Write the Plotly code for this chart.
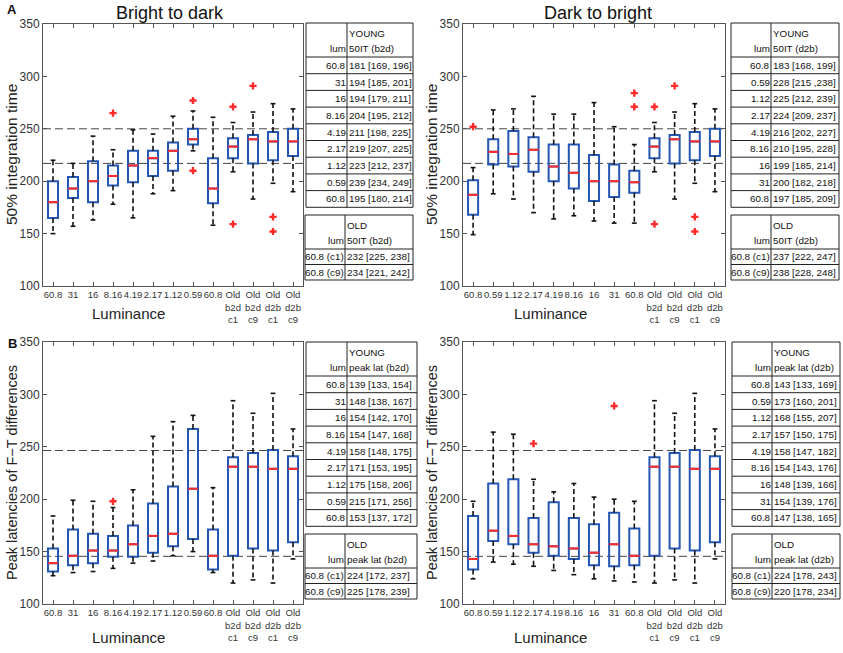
import plotly.graph_objects as go

W, H = 843, 653

# ---- tick labels ----
old_ticks = ["Old<br>b2d<br>c1", "Old<br>b2d<br>c9", "Old<br>d2b<br>c1", "Old<br>d2b<br>c9"]
lum_b2d = ["60.8", "31", "16", "8.16", "4.19", "2.17", "1.12", "0.59", "60.8"]
lum_d2b = ["60.8", "0.59", "1.12", "2.17", "4.19", "8.16", "16", "31", "60.8"]
ticks_b2d = lum_b2d + old_ticks
ticks_d2b = lum_d2b + old_ticks

# ---- A: 50% integration time, bright to dark ----
it_b2d_lo = [150, 157, 163, 178, 165, 188, 191, 229, 158, 209, 183, 198, 190]
it_b2d_q1 = [165, 184, 180, 196, 199, 205, 210, 235, 179, 222, 217, 220, 224]
it_b2d_med = [180, 193, 200, 205, 215, 222, 229, 240, 193, 233, 240, 238, 238]
it_b2d_q3 = [200, 204, 219, 215, 229, 229, 237, 250, 222, 241, 244, 247, 250]
it_b2d_hi = [220, 217, 243, 230, 249, 245, 262, 267, 261, 256, 266, 274, 269]
it_b2d_out = [[], [], [], [265], [], [], [], [277, 210], [], [271, 159], [291], [166, 152], []]

# ---- A: 50% integration time, dark to bright ----
it_d2b_lo = [149, 188, 183, 170, 164, 167, 162, 160, 160, 209, 183, 198, 190]
it_d2b_q1 = [168, 216, 214, 209, 200, 193, 181, 185, 189, 222, 217, 220, 224]
it_d2b_med = [187, 228, 226, 230, 214, 208, 200, 200, 199, 233, 240, 238, 238]
it_d2b_q3 = [201, 240, 248, 242, 235, 235, 225, 216, 210, 241, 244, 247, 250]
it_d2b_hi = [213, 268, 269, 281, 264, 264, 275, 252, 235, 256, 266, 274, 269]
it_d2b_out = [[252], [], [], [], [], [], [], [], [271, 284], [271, 159], [291], [166, 152], []]

# ---- B: peak latencies, bright to dark ----
pl_b2d_lo = [127, 130, 131, 134, 139, 141, 146, 150, 130, 120, 123, 120, 143]
pl_b2d_q1 = [131, 137, 139, 145, 145, 149, 155, 162, 133, 146, 153, 151, 159]
pl_b2d_med = [139, 146, 151, 151, 157, 165, 167, 210, 146, 231, 231, 229, 229]
pl_b2d_q3 = [153, 171, 167, 165, 175, 196, 212, 267, 171, 240, 244, 247, 241]
pl_b2d_hi = [184, 199, 198, 192, 209, 260, 274, 280, 211, 294, 282, 301, 267]
pl_b2d_out = [[], [], [], [198], [], [], [], [], [], [], [], [], []]

# ---- B: peak latencies, dark to bright ----
pl_d2b_lo = [124, 140, 138, 136, 132, 128, 124, 122, 121, 120, 123, 120, 143]
pl_d2b_q1 = [133, 160, 157, 149, 146, 143, 137, 136, 137, 146, 153, 151, 159]
pl_d2b_med = [143, 170, 165, 157, 155, 153, 149, 157, 146, 231, 231, 229, 229]
pl_d2b_q3 = [184, 215, 219, 182, 197, 182, 176, 187, 172, 240, 244, 247, 241]
pl_d2b_hi = [198, 264, 262, 219, 207, 215, 202, 200, 198, 294, 282, 301, 267]
pl_d2b_out = [[], [], [], [253], [], [], [], [289], [], [], [], [], []]

# dashed reference levels
ref_it = [250, 217]
ref_pl = [246.5, 145.5]

# ---- tables ----
old_lum = ["60.8 (c1)", "60.8 (c9)"]
tab_it_b2d = ["181 [169, 196]", "194 [185, 201]", "194 [179, 211]", "204 [195, 212]", "211 [198, 225]",
              "219 [207, 225]", "223 [212, 237]", "239 [234, 249]", "195 [180, 214]"]
tab_it_b2d_old = ["232 [225, 238]", "234 [221, 242]"]
tab_it_d2b = ["183 [168, 199]", "228 [215 ,238]", "225 [212, 239]", "224 [209, 237]", "216 [202, 227]",
              "210 [195, 228]", "199 [185, 214]", "200 [182, 218]", "197 [185, 209]"]
tab_it_d2b_old = ["237 [222, 247]", "238 [228, 248]"]
tab_pl_b2d = ["139 [133, 154]", "148 [138, 167]", "154 [142, 170]", "154 [147, 168]", "158 [148, 175]",
              "171 [153, 195]", "175 [158, 206]", "215 [171, 256]", "153 [137, 172]"]
tab_pl_b2d_old = ["224 [172, 237]", "225 [178, 239]"]
tab_pl_d2b = ["143 [133, 169]", "173 [160, 201]", "168 [155, 207]", "157 [150, 175]", "158 [147, 182]",
              "154 [143, 176]", "148 [139, 166]", "154 [139, 176]", "147 [138, 165]"]
tab_pl_d2b_old = ["224 [178, 243]", "220 [178, 234]"]

BLUE = "#2456b4"
RED = "#ff2a2a"
SANS = "Liberation Sans, Arial"


def px(x):
    return x / W


def py(y):
    return 1 - y / H


fig = go.Figure()


def add_panel(n, lo, q1, med, q3, hi, out, refs):
    xa = "x" if n == 1 else "x%d" % n
    ya = "y" if n == 1 else "y%d" % n
    pos = list(range(1, len(med) + 1))
    fig.add_trace(go.Box(x=pos, q1=q1, median=med, q3=q3, lowerfence=q1, upperfence=q3,
                         width=0.5, whiskerwidth=0, boxpoints=False,
                         line=dict(color=BLUE, width=2), fillcolor="rgba(0,0,0,0)",
                         xaxis=xa, yaxis=ya, hoverinfo="skip"))
    wx, wy, cx, cy, mx, my, ox, oy = [], [], [], [], [], [], [], []
    for i, p in enumerate(pos):
        wx += [p, p, None, p, p, None]
        wy += [q3[i], hi[i], None, q1[i], lo[i], None]
        cx += [p - 0.12, p + 0.12, None, p - 0.12, p + 0.12, None]
        cy += [hi[i], hi[i], None, lo[i], lo[i], None]
        mx += [p - 0.25, p + 0.25, None]
        my += [med[i], med[i], None]
        for v in out[i]:
            ox.append(p)
            oy.append(v)
    fig.add_trace(go.Scatter(x=wx, y=wy, mode="lines", line=dict(color="#111", width=1.6, dash="5px,3px"),
                             xaxis=xa, yaxis=ya, hoverinfo="skip"))
    fig.add_trace(go.Scatter(x=cx, y=cy, mode="lines", line=dict(color="#111", width=1.6),
                             xaxis=xa, yaxis=ya, hoverinfo="skip"))
    fig.add_trace(go.Scatter(x=mx, y=my, mode="lines", line=dict(color=RED, width=2),
                             xaxis=xa, yaxis=ya, hoverinfo="skip"))
    fig.add_trace(go.Scatter(x=ox, y=oy, mode="markers", marker=dict(symbol="cross", size=6, color=RED),
                             xaxis=xa, yaxis=ya, hoverinfo="skip"))
    for r in refs:
        fig.add_shape(type="line", xref=xa + " domain", yref=ya, x0=0, x1=1, y0=r, y1=r,
                      line=dict(color="#444", width=1, dash="8px,4px"), layer="below")


def add_table(x0, xd, x1, y0, head, row_h, title, col_head, lums, vals):
    y1 = y0 + head + row_h * len(lums)
    ln = dict(color="#222", width=1)
    fig.add_shape(type="rect", xref="paper", yref="paper", x0=px(x0), x1=px(x1), y0=py(y1), y1=py(y0), line=ln)
    fig.add_shape(type="line", xref="paper", yref="paper", x0=px(xd), x1=px(xd), y0=py(y0), y1=py(y1), line=ln)
    f = dict(family=SANS, size=9.8, color="#111")
    cell = dict(showarrow=False, font=f, xref="paper", yref="paper", yanchor="middle", borderpad=0)
    fig.add_annotation(x=px(xd + 0.5), y=py(y0 + head * 0.3), text=title, xanchor="left", **cell)
    fig.add_annotation(x=px(xd - 0.5), y=py(y0 + head * 0.75), text="lum", xanchor="right", **cell)
    fig.add_annotation(x=px(xd + 0.5), y=py(y0 + head * 0.75), text=col_head, xanchor="left", **cell)
    for i in range(len(lums)):
        yt = y0 + head + i * row_h
        fig.add_shape(type="line", xref="paper", yref="paper", x0=px(x0), x1=px(x1), y0=py(yt), y1=py(yt), line=ln)
        fig.add_annotation(x=px(xd - 0.5), y=py(yt + row_h / 2), text=lums[i], xanchor="right", **cell)
        fig.add_annotation(x=px(xd + 0.5), y=py(yt + row_h / 2), text=vals[i], xanchor="left", **cell)


add_panel(1, it_b2d_lo, it_b2d_q1, it_b2d_med, it_b2d_q3, it_b2d_hi, it_b2d_out, ref_it)
add_panel(2, it_d2b_lo, it_d2b_q1, it_d2b_med, it_d2b_q3, it_d2b_hi, it_d2b_out, ref_it)
add_panel(3, pl_b2d_lo, pl_b2d_q1, pl_b2d_med, pl_b2d_q3, pl_b2d_hi, pl_b2d_out, ref_pl)
add_panel(4, pl_d2b_lo, pl_d2b_q1, pl_d2b_med, pl_d2b_q3, pl_d2b_hi, pl_d2b_out, ref_pl)

# tables (pixel geometry)
add_table(306, 347, 413, 23, 34, 16.7, "YOUNG", "50IT (b2d)", lum_b2d, tab_it_b2d)
add_table(305, 345, 413, 215, 34, 15.5, "OLD", "50IT (b2d)", old_lum, tab_it_b2d_old)
add_table(731, 771, 839, 23, 34, 16.7, "YOUNG", "50IT (d2b)", lum_d2b, tab_it_d2b)
add_table(731, 771, 839, 215, 34, 15.5, "OLD", "50IT (d2b)", old_lum, tab_it_d2b_old)
add_table(306, 347, 417, 342, 34, 16.7, "YOUNG", "peak lat (b2d)", lum_b2d, tab_pl_b2d)
add_table(305, 345, 417, 534, 34, 15.5, "OLD", "peak lat (b2d)", old_lum, tab_pl_b2d_old)
add_table(732, 772, 840, 342, 34, 16.7, "YOUNG", "peak lat (d2b)", lum_d2b, tab_pl_d2b)
add_table(732, 772, 840, 534, 34, 15.5, "OLD", "peak lat (d2b)", old_lum, tab_pl_d2b_old)

# axes
xdoms = [(43, 303), (463, 725)]
ydoms = [(24, 286), (342, 604)]
axis_common = dict(showline=True, mirror="ticks", linecolor="#555", linewidth=1, ticks="inside",
                   ticklen=4, tickcolor="#555", showgrid=False, zeroline=False, automargin=False,
                   tickfont=dict(family=SANS, size=9.5, color="#333"))
layout_axes = {}
for n in range(1, 5):
    col = (n - 1) % 2
    row = (n - 1) // 2
    xd = xdoms[col]
    yd = ydoms[row]
    key = "" if n == 1 else str(n)
    layout_axes["xaxis" + key] = dict(axis_common, domain=[px(xd[0]), px(xd[1])], range=[0.5, 13.5],
                                      tickvals=list(range(1, 14)), tickangle=0,
                                      ticktext=ticks_b2d if col == 0 else ticks_d2b,
                                      anchor="y" + key)
    layout_axes["yaxis" + key] = dict(axis_common, domain=[py(yd[1]), py(yd[0])], range=[100, 350],
                                      tickvals=[100, 150, 200, 250, 300, 350],
                                      tickfont=dict(family=SANS, size=12, color="#333"),
                                      anchor="x" + key)

fig.update_layout(width=W, height=H, margin=dict(l=0, r=0, t=0, b=0), showlegend=False,
                  paper_bgcolor="white", plot_bgcolor="white", **layout_axes)

# titles and labels
txt = dict(showarrow=False, xref="paper", yref="paper", xanchor="center", yanchor="middle")
fig.add_annotation(x=px(170), y=py(13), text="Bright to dark", font=dict(family=SANS, size=18, color="#111"), **txt)
fig.add_annotation(x=px(598), y=py(13), text="Dark to bright", font=dict(family=SANS, size=18, color="#111"), **txt)
fig.add_annotation(x=px(12), y=py(10), text="<b>A</b>", font=dict(family=SANS, size=13, color="#111"), **txt)
fig.add_annotation(x=px(12), y=py(343), text="<b>B</b>", font=dict(family=SANS, size=13, color="#111"), **txt)
for xc in (128, 550):
    for yc in (313, 637):
        fig.add_annotation(x=px(xc), y=py(yc), text="Luminance", font=dict(family=SANS, size=15, color="#222"), **txt)
for xc in (12, 432):
    fig.add_annotation(x=px(xc), y=py(155), text="50% integration time", textangle=-90,
                       font=dict(family=SANS, size=15.5, color="#222"), **txt)
    fig.add_annotation(x=px(xc), y=py(473), text="Peak latencies of F\u2212T differences", textangle=-90,
                       font=dict(family=SANS, size=14.5, color="#222"), **txt)

# drop the default page margin so the figure sits at the window origin
fig.write_html("out.html", config={"displayModeBar": False},
               post_script="document.body.style.margin='0';document.documentElement.style.overflow='hidden';")
